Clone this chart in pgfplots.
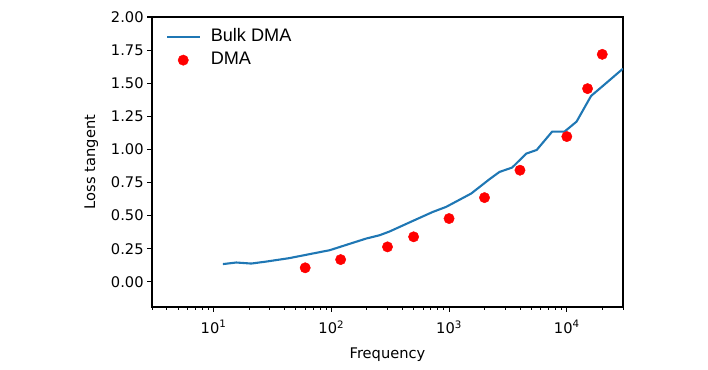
\documentclass[border=0pt]{standalone}
\usepackage{fontspec}
\setmainfont{DejaVu Sans}
\newfontfamily\legfont{Liberation Sans}
\usepackage{pgfplots}
\pgfplotsset{compat=1.18}
\definecolor{mplblue}{HTML}{1F77B4}
\pgfplotsset{
  mylineleg/.style={legend image code/.code={\draw[##1, line width=2.1bp] (0bp,0bp) -- (33bp,0bp);}},
  mymarkleg/.style={legend image code/.code={\draw[draw=none] (0bp,0bp) -- (33bp,0bp); \draw[##1] plot coordinates {(16bp,0bp)};}},
}
\begin{document}
\begin{tikzpicture}[x=1bp,y=1bp]
\useasboundingbox (-152bp,-63bp) rectangle (556bp,307bp);
\begin{axis}[
  at={(0,0)}, anchor=south west,
  scale only axis, width=471bp, height=290bp,
  xmode=log, xmin=3, xmax=30000, ymin=-0.19, ymax=2.0,
  axis line style={line width=1.1bp},
  tick align=outside, tick pos=left,
  major tick length=4.9bp, minor tick length=2.8bp,
  every tick/.style={black, line width=1.1bp},
  minor tick style={line width=0.8bp},
  xtick={10,100,1000,10000},
  minor xtick={3,4,5,6,7,8,9,20,30,40,50,60,70,80,90,200,300,400,500,600,700,800,900,2000,3000,4000,5000,6000,7000,8000,9000,20000,30000},
  xticklabels={10\textsuperscript{1},10\textsuperscript{2},10\textsuperscript{3},10\textsuperscript{4}},
  ytick={0,0.25,0.5,0.75,1,1.25,1.5,1.75,2},
  yticklabel style={/pgf/number format/.cd, fixed, fixed zerofill, precision=2, assume math mode=true},
  ticklabel style={font=\fontsize{14.7}{17}\selectfont},
  xticklabel style={yshift=-5bp},
  xlabel={Frequency}, ylabel={Loss tangent},
  label style={font=\fontsize{14.7}{17}\selectfont},
  xlabel style={yshift=-8bp},
  ylabel style={yshift=6bp},
  legend style={draw=none, fill=none, at={(axis description cs:0,1)}, anchor=north west, xshift=14bp, yshift=-12bp, inner sep=0pt,
    font=\legfont\fontsize{18.2}{20}\selectfont, row sep=6.5bp,
    nodes={inner sep=0pt, text height=12.8bp, text depth=3.5bp},
    /tikz/column 1/.style={column sep=9.5bp}},
  legend cell align=left,
]
\addplot[mplblue, line width=2.1bp, no markers, mylineleg] coordinates {
(12,0.134) (15.6,0.146) (20.9,0.138) (28,0.153) (44,0.179) (61,0.204) (97,0.239) (134,0.279) (198,0.327) (257,0.352) (312,0.38) (492,0.46) (728,0.528) (944,0.566) (1542,0.667) (2204,0.775) (2680,0.83) (3434,0.863) (4515,0.968) (5550,0.996) (7500,1.134) (9550,1.134) (12100,1.21) (16070,1.404) (20200,1.479) (30000,1.61)
};
\addlegendentry{Bulk DMA}
\addplot[only marks, mark=*, mark size=5.2bp, red, mark options={draw=red, fill=red}, mymarkleg] coordinates {
(60,0.106) (120,0.168) (300,0.264) (500,0.34) (1000,0.478) (2000,0.636) (4000,0.843) (10000,1.097) (15000,1.459) (20000,1.718)
};
\addlegendentry{DMA}
\end{axis}
\end{tikzpicture}
\end{document}
